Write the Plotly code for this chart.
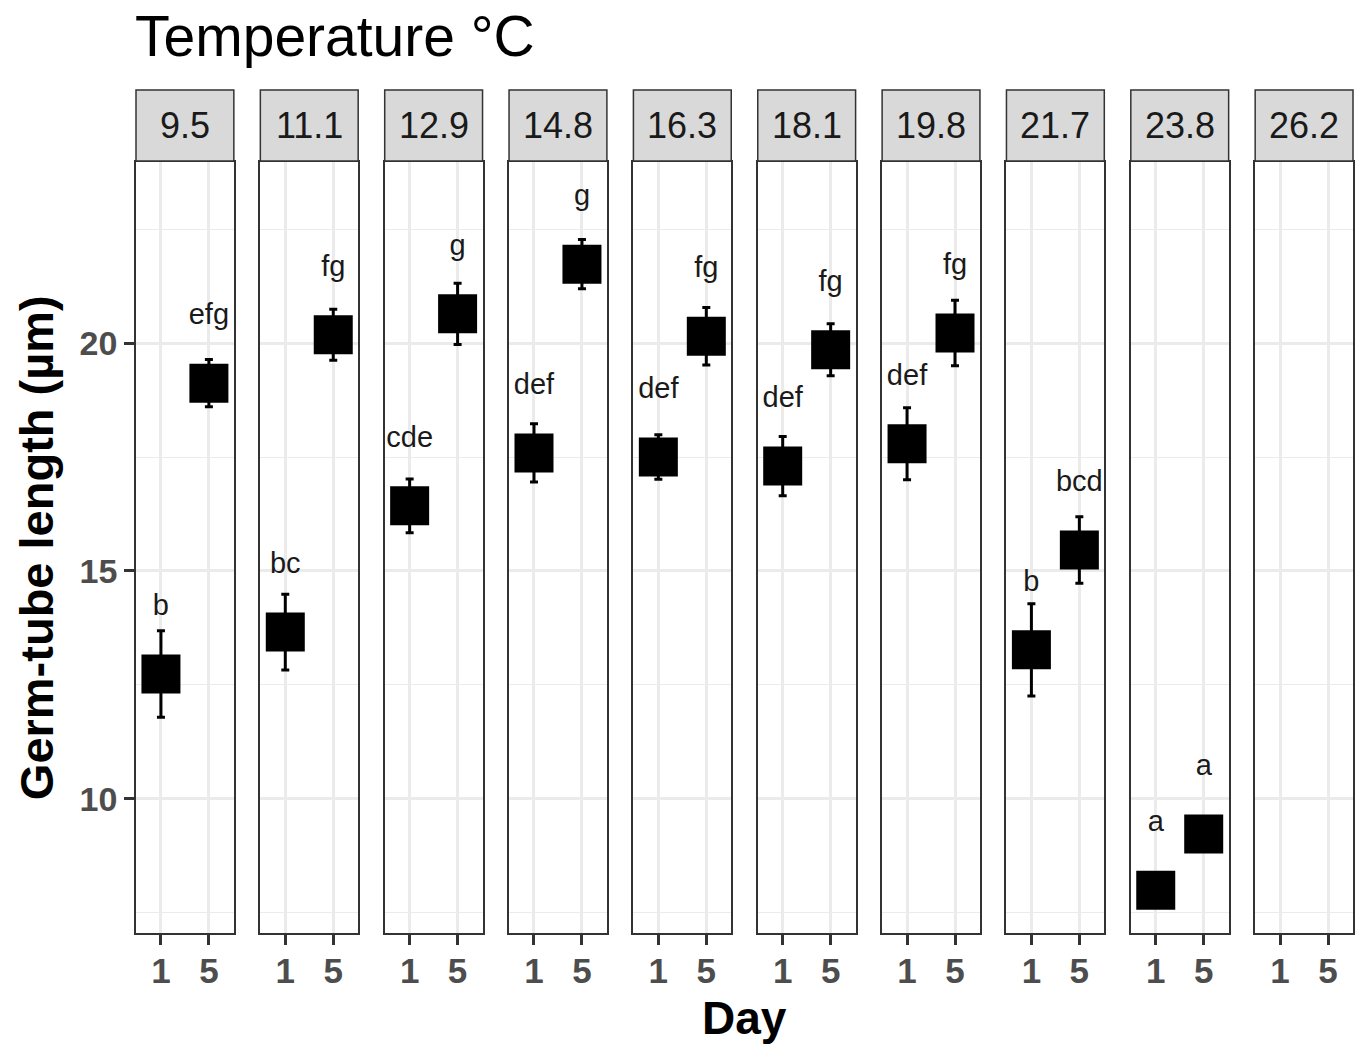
import plotly.graph_objects as go
from plotly.subplots import make_subplots

temps = ["9.5", "11.1", "12.9", "14.8", "16.3", "18.1", "19.8", "21.7", "23.8", "26.2"]
day_labels = ["1", "5"]
day1_mean = [12.74, 13.66, 16.43, 17.59, 17.50, 17.30, 17.79, 13.27, 8.00, None]
day5_mean = [19.12, 20.18, 20.64, 21.73, 20.15, 19.85, 20.22, 15.46, 9.23, None]
day1_se = [0.95, 0.83, 0.59, 0.64, 0.49, 0.65, 0.79, 1.01, 0.0, None]
day5_se = [0.52, 0.56, 0.67, 0.54, 0.63, 0.57, 0.72, 0.73, 0.0, None]
day1_group = ["b", "bc", "cde", "def", "def", "def", "def", "b", "a", ""]
day5_group = ["efg", "fg", "g", "g", "fg", "fg", "fg", "bcd", "a", ""]

W, H = 1359, 1044
ML, MR, MT, MB = 136, 4, 162, 111
PW = W - ML - MR
PH = H - MT - MB
FONT = "Liberation Sans, Arial, sans-serif"
n = len(temps)
gap_px = (PW - 98 * n) / (n - 1)

fig = make_subplots(rows=1, cols=n, shared_yaxes=True, horizontal_spacing=gap_px / PW)

label_offset = 1.45
for i in range(n):
    col = i + 1
    m = [day1_mean[i], day5_mean[i]]
    se = [day1_se[i] or 0, day5_se[i] or 0]
    fig.add_trace(go.Scatter(
        x=[1, 2], y=m, mode="markers",
        marker=dict(symbol="square", size=39, color="black", line=dict(width=0)),
        error_y=dict(type="data", array=se, visible=True, color="black", thickness=3, width=4),
        showlegend=False, hoverinfo="skip"), row=1, col=col)
    ly = [None if v is None else v + label_offset for v in m]
    fig.add_trace(go.Scatter(
        x=[1, 2], y=ly, mode="text",
        text=[day1_group[i], day5_group[i]], textposition="middle center",
        textfont=dict(family=FONT, size=29, color="#1a1a1a"),
        showlegend=False, hoverinfo="skip"), row=1, col=col)

yr = [7.06, 23.97]
for i in range(n):
    col = i + 1
    fig.update_xaxes(range=[0.48, 2.52], tickvals=[1, 2], ticktext=day_labels,
                     showgrid=True, gridcolor="#ebebeb", gridwidth=2.5, zeroline=False,
                     showline=True, mirror=True, linecolor="#333333", linewidth=1.5,
                     ticks="outside", ticklen=10, tickwidth=3, tickcolor="#333333",
                     ticklabelstandoff=-4,
                     tickfont=dict(family=FONT, size=35, color="#4d4d4d", weight="bold"),
                     row=1, col=col)
    fig.update_yaxes(range=yr, tickvals=[10, 15, 20], showgrid=True, gridcolor="#ebebeb",
                     gridwidth=2.5, zeroline=False,
                     minor=dict(tickvals=[7.5, 12.5, 17.5, 22.5], showgrid=True,
                                gridcolor="#ebebeb", gridwidth=1.3, ticks=""),
                     showline=True, mirror=True, linecolor="#333333", linewidth=1.5,
                     ticks="outside" if col == 1 else "", ticklen=10, tickwidth=3,
                     tickcolor="#333333", showticklabels=(col == 1),
                     tickfont=dict(family=FONT, size=34, color="#4d4d4d", weight="bold"),
                     row=1, col=col)

def py(p):
    return (H - MB - p) / PH

def px(p):
    return (p - ML) / PW

shapes = []
annotations = []
for i in range(n):
    key = "xaxis" if i == 0 else f"xaxis{i + 1}"
    d0, d1 = fig.layout[key].domain
    shapes.append(dict(type="rect", xref="paper", yref="paper", x0=d0, x1=d1,
                       y0=py(161), y1=py(90), fillcolor="#d9d9d9",
                       line=dict(color="#333333", width=1.5)))
    annotations.append(dict(text=temps[i], xref="paper", yref="paper",
                            x=(d0 + d1) / 2, y=py(126), showarrow=False,
                            xanchor="center", yanchor="middle",
                            font=dict(family=FONT, size=36, color="#1a1a1a")))

annotations.append(dict(text="Temperature °C", xref="paper", yref="paper",
                        x=px(133), y=py(36), xanchor="left", yanchor="middle",
                        showarrow=False, font=dict(family=FONT, size=57, color="black")))
annotations.append(dict(text="Germ-tube length (µm)", xref="paper", yref="paper",
                        x=px(36), y=py(548), textangle=-90, xanchor="center",
                        yanchor="middle", showarrow=False,
                        font=dict(family=FONT, size=47, color="black", weight="bold")))
annotations.append(dict(text="Day", xref="paper", yref="paper",
                        x=px(745), y=py(1018), xanchor="center", yanchor="middle",
                        showarrow=False,
                        font=dict(family=FONT, size=46, color="black", weight="bold")))

fig.update_layout(width=W, height=H, margin=dict(l=ML, r=MR, t=MT, b=MB, pad=0),
                  plot_bgcolor="white", paper_bgcolor="white",
                  shapes=shapes, annotations=annotations, showlegend=False,
                  font=dict(family=FONT))

fig.write_html("out.html", config={"displayModeBar": False},
               post_script="document.body.style.margin='0';document.body.style.overflow='hidden';")
